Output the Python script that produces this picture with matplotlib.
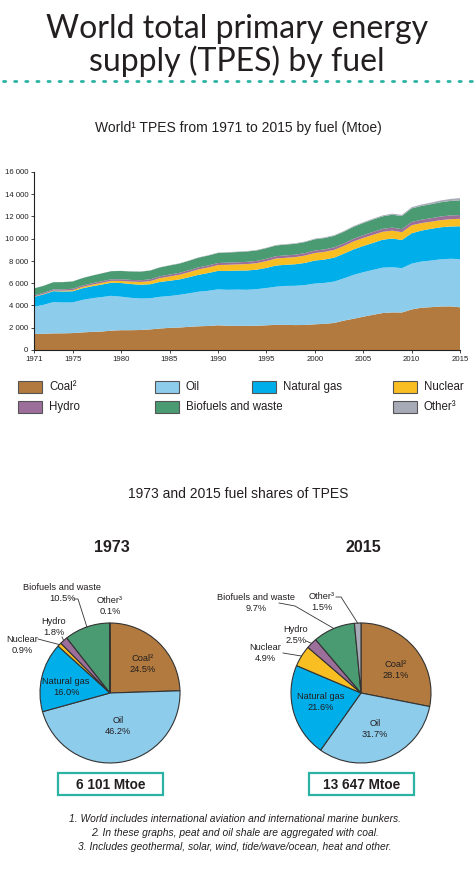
import numpy as np
import matplotlib.pyplot as plt
from matplotlib.lines import Line2D
from matplotlib.patches import Rectangle

# ---- data (Mtoe) ----
years = np.arange(1971, 2016)
coal = [1440, 1460, 1490, 1500, 1520, 1580, 1630, 1660, 1740, 1780,
        1780, 1800, 1850, 1930, 1990, 2020, 2080, 2130, 2160, 2220,
        2180, 2170, 2170, 2180, 2220, 2260, 2260, 2240, 2250, 2310,
        2350, 2430, 2640, 2810, 2990, 3160, 3320, 3380, 3370, 3640,
        3800, 3850, 3910, 3920, 3840]
oil = [2450, 2600, 2820, 2770, 2760, 2920, 3020, 3100, 3130, 3010,
       2910, 2830, 2800, 2850, 2860, 2940, 3010, 3110, 3160, 3230,
       3230, 3260, 3240, 3290, 3350, 3430, 3500, 3530, 3590, 3660,
       3680, 3720, 3800, 3940, 4000, 4040, 4080, 4060, 3990, 4120,
       4150, 4190, 4240, 4280, 4330]
gas = [890, 940, 980, 990, 1000, 1050, 1080, 1120, 1180, 1230,
       1240, 1240, 1260, 1340, 1370, 1380, 1450, 1520, 1600, 1660,
       1700, 1710, 1740, 1750, 1810, 1900, 1900, 1940, 1990, 2070,
       2100, 2150, 2220, 2290, 2360, 2420, 2510, 2580, 2530, 2730,
       2780, 2850, 2880, 2900, 2950]
nuclear = [29, 40, 53, 70, 100, 115, 140, 160, 165, 186,
           220, 245, 280, 335, 390, 420, 455, 490, 500, 525,
           550, 555, 575, 585, 610, 630, 625, 640, 660, 675,
           690, 700, 690, 715, 720, 730, 710, 710, 700, 720,
           675, 640, 645, 660, 670]
hydro = [104, 108, 110, 120, 125, 126, 128, 137, 143, 148,
         150, 155, 160, 165, 170, 172, 175, 180, 180, 184,
         190, 190, 200, 203, 212, 215, 218, 220, 222, 225,
         220, 225, 227, 240, 250, 258, 262, 272, 275, 295,
         300, 315, 325, 335, 340]
biofuels = [620, 625, 640, 650, 660, 670, 690, 710, 730, 750,
            760, 775, 790, 800, 820, 830, 850, 870, 890, 900,
            910, 920, 930, 940, 950, 960, 970, 980, 990, 1010,
            1020, 1030, 1050, 1070, 1090, 1110, 1130, 1160, 1180, 1220,
            1240, 1260, 1280, 1300, 1320]
other = [6, 6, 6, 7, 7, 8, 8, 9, 10, 12,
         14, 16, 18, 21, 25, 27, 29, 31, 34, 37,
         38, 39, 40, 41, 42, 44, 46, 49, 53, 60,
         61, 64, 66, 70, 75, 80, 86, 93, 100, 110,
         125, 140, 160, 180, 205]

fuels = ["Coal²", "Oil", "Natural gas", "Nuclear", "Hydro", "Biofuels and waste", "Other³"]
colors = ["#B27A3E", "#8ECCEC", "#00AEEA", "#F8BE22", "#9C6E9A", "#4A9A72", "#A7AAB7"]

share_1973 = [24.5, 46.2, 16.0, 0.9, 1.8, 10.5, 0.1]
share_2015 = [28.1, 31.7, 21.6, 4.9, 2.5, 9.7, 1.5]
totals = [6101, 13647]
pie_years = ["1973", "2015"]

W, H = 476, 871
SANS = ["Liberation Sans", "DejaVu Sans"]
TEAL = "#2BB3A3"
TXT = "#231F20"

fig = plt.figure(figsize=(W / 100, H / 100), dpi=100)


def fx(x):
    return x / W


def fy(y):
    return 1 - y / H


def label(x, y, s, **kw):
    kw.setdefault("ha", "center")
    kw.setdefault("va", "center")
    kw.setdefault("color", TXT)
    kw.setdefault("family", SANS)
    fig.text(fx(x), fy(y), s, **kw)


def fline(xs, ys, **kw):
    fig.add_artist(Line2D([fx(v) for v in xs], [fy(v) for v in ys],
                          transform=fig.transFigure, **kw))


# ---- header ----
label(237, 29, "World total primary energy", fontsize=23, family=["Lato", "DejaVu Sans"])
label(237, 61, "supply (TPES) by fuel", fontsize=23, family=["Lato", "DejaVu Sans"])
fline([3, 472], [81, 81], color=TEAL, lw=2, linestyle=(0, (0.8, 3.2)),
      dash_capstyle="round")
label(238, 128, "World¹ TPES from 1971 to 2015 by fuel (Mtoe)", fontsize=10)

# ---- stacked area ----
ax = fig.add_axes([fx(34), fy(350), 426 / W, 178 / H])
ax.stackplot(years, coal, oil, gas, nuclear, hydro, biofuels, other,
             colors=colors, linewidth=0)
ax.set_xlim(1971, 2015)
ax.set_ylim(0, 16000)
ax.set_xticks([1971, 1975, 1980, 1985, 1990, 1995, 2000, 2005, 2010, 2015])
yt = np.arange(0, 16001, 2000)
ax.set_yticks(yt)
ax.set_yticklabels([f"{v:,.0f}".replace(",", " ") for v in yt])
for s in ["top", "right"]:
    ax.spines[s].set_visible(False)
for s in ["left", "bottom"]:
    ax.spines[s].set_color("#222222")
    ax.spines[s].set_linewidth(0.8)
ax.tick_params(length=2.5, width=0.6, pad=1.5, labelsize=5.6, colors="#222222")
for t in ax.get_xticklabels() + ax.get_yticklabels():
    t.set_family(SANS)
ax.margins(0)

# ---- legend ----
col_x = [18, 155, 252, 393]
row_y = [387, 407]
for i, (name, c) in enumerate(zip(fuels, colors)):
    if i < 4:
        cx, ry = col_x[i], row_y[0]
    else:
        cx, ry = [col_x[0], col_x[1], col_x[3]][i - 4], row_y[1]
    fig.add_artist(Rectangle((fx(cx), fy(ry + 6)), 24 / W, 12 / H, transform=fig.transFigure,
                             facecolor=c, edgecolor="#555555", lw=0.8))
    label(cx + 31, ry, name, ha="left", fontsize=8.3)

# ---- pies ----
label(238, 494, "1973 and 2015 fuel shares of TPES", fontsize=10)

centers = [(110, 693), (361, 693)]
R = 70
pie_axes = []
for k, (shares, (cx, cy)) in enumerate(zip([share_1973, share_2015], centers)):
    pax = fig.add_axes([fx(cx - R), fy(cy + R), 2 * R / W, 2 * R / H])
    pax.pie(shares, colors=colors, startangle=90, counterclock=False, radius=1,
            wedgeprops=dict(edgecolor="#333333", linewidth=0.8))
    pax.set_xlim(-1, 1)
    pax.set_ylim(-1, 1)
    pax.set_aspect("auto")
    pax.axis("off")
    pie_axes.append(pax)
    label(cx + 2, 548, pie_years[k], fontsize=11.5, fontweight="bold")
    # total box
    fig.add_artist(Rectangle((fx(cx - 52), fy(795)), 105 / W, 22 / H, transform=fig.transFigure,
                             facecolor="white", edgecolor=TEAL, lw=1.6))
    label(cx + 1, 784.5, f"{totals[k]:,} Mtoe".replace(",", " "), fontsize=9.8,
          fontweight="bold")


def edge(shares, i, r=1.0):
    cum = sum(shares[:i]) + shares[i] / 2
    th = np.radians(360 * cum / sum(shares))
    return r * np.sin(th), r * np.cos(th)


def leader(pax, shares, i, xs, ys):
    # polyline from label (figure px) to the edge of wedge i
    ex, ey = edge(shares, i)
    p = fig.transFigure.inverted().transform(pax.transData.transform((ex, ey)))
    fig.add_artist(Line2D([fx(v) for v in xs] + [p[0]], [fy(v) for v in ys] + [p[1]],
                          transform=fig.transFigure, color="#333333", lw=0.6))


PF = dict(fontsize=6.7, linespacing=1.3)


def pct(v):
    return f"{v:.1f}%"


# 1973 labels
s = share_1973
label(143, 664, f"{fuels[0]}\n{pct(s[0])}", **PF)
label(118, 726, f"{fuels[1]}\n{pct(s[1])}", **PF)
label(66, 687, f"{fuels[2]}\n{pct(s[2])}", **PF)
label(22, 645, f"{fuels[3]}\n{pct(s[3])}", **PF)
label(54, 627, f"{fuels[4]}\n{pct(s[4])}", **PF)
label(62, 593, f"{fuels[5]}\n{pct(s[5])}", **PF)
label(110, 606, f"{fuels[6]}\n{pct(s[6])}", **PF)
leader(pie_axes[0], s, 3, [38], [639])
leader(pie_axes[0], s, 4, [62], [637])
leader(pie_axes[0], s, 5, [74, 78], [599, 599])

# 2015 labels
s = share_2015
label(396, 670, f"{fuels[0]}\n{pct(s[0])}", **PF)
label(375, 729, f"{fuels[1]}\n{pct(s[1])}", **PF)
label(321, 702, f"{fuels[2]}\n{pct(s[2])}", **PF)
label(265, 653, f"{fuels[3]}\n{pct(s[3])}", **PF)
label(296, 635, f"{fuels[4]}\n{pct(s[4])}", **PF)
label(256, 603, f"{fuels[5]}\n{pct(s[5])}", **PF)
label(322, 602, f"{fuels[6]}\n{pct(s[6])}", **PF)
leader(pie_axes[1], s, 3, [283], [653])
leader(pie_axes[1], s, 4, [306], [641])
leader(pie_axes[1], s, 5, [279, 295], [603, 606])
leader(pie_axes[1], s, 6, [336, 341], [597, 597])

# ---- footnotes ----
FN = dict(fontsize=7.4, style="italic")
label(235, 819, "1. World includes international aviation and international marine bunkers.", **FN)
label(235, 833, "2. In these graphs, peat and oil shale are aggregated with coal.", **FN)
label(235, 847, "3. Includes geothermal, solar, wind, tide/wave/ocean, heat and other.", **FN)

fig.savefig("out.png", dpi=100, facecolor="white")
